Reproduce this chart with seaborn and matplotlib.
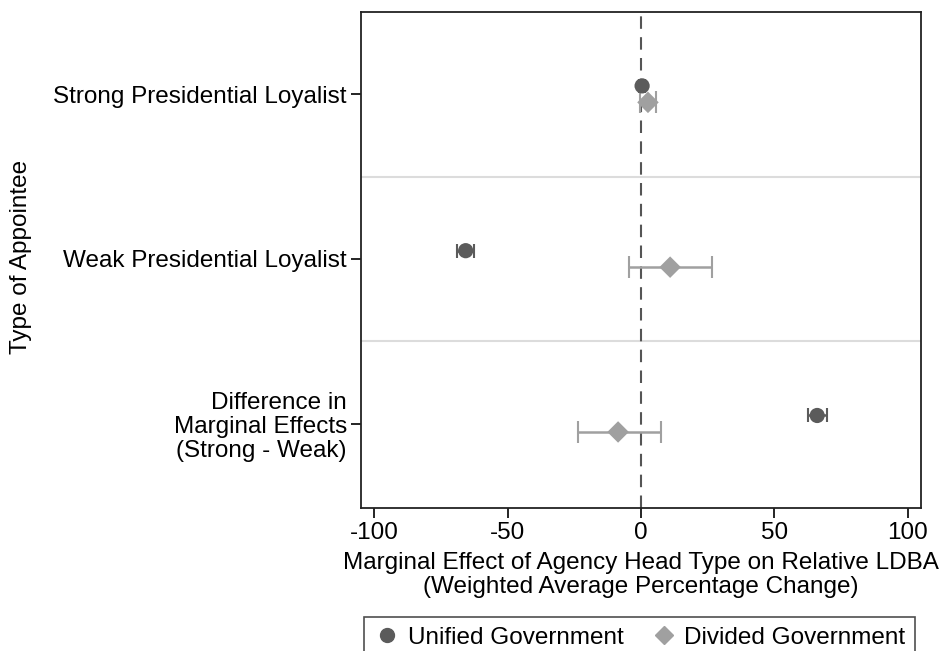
import numpy as np
import pandas as pd
import matplotlib
matplotlib.use("Agg")
import matplotlib.pyplot as plt
import seaborn as sns

# values
categories = ["Strong Presidential Loyalist", "Weak Presidential Loyalist",
              "Difference in\nMarginal Effects\n(Strong - Weak)"]
unified_est = [0.4, -65.7, 66.0]
unified_lo = [-0.6, -69.0, 62.5]
unified_hi = [1.4, -62.5, 69.5]
divided_est = [2.6, 10.9, -8.6]
divided_lo = [-0.4, -4.5, -23.6]
divided_hi = [5.6, 26.6, 7.5]
groups = ["Unified Government", "Divided Government"]

sns.set_style("white")
plt.rcParams['font.family'] = ['Liberation Sans', 'DejaVu Sans']
plt.rcParams['axes.unicode_minus'] = False
plt.rcParams['text.color'] = 'black'
plt.rcParams['axes.labelcolor'] = 'black'

pos = np.arange(1, len(categories) + 1)
df = pd.DataFrame({
    "est": unified_est + divided_est,
    "lo": unified_lo + divided_lo,
    "hi": unified_hi + divided_hi,
    "y": np.concatenate([pos - 0.05, pos + 0.05]),
    "group": [groups[0]] * 3 + [groups[1]] * 3,
})

dark = "#5b5b5b"
light = "#a0a0a0"
pal = {groups[0]: dark, groups[1]: light}
fs = 17.5

fig = plt.figure(figsize=(9.42, 6.51), dpi=100)
ax = fig.add_axes([0.383, 0.22, 0.595, 0.762])

ax.axhline(1.5, color="#dcdcdc", lw=1.5, zorder=0)
ax.axhline(2.5, color="#dcdcdc", lw=1.5, zorder=0)
ax.axvline(0, color="#555555", lw=1.5, ls=(0, (6, 4)), zorder=1)

for g in groups:
    sub = df[df.group == g]
    ax.errorbar(sub.est, sub.y, xerr=[sub.est - sub.lo, sub.hi - sub.est],
                fmt="none", ecolor=pal[g], elinewidth=1.8,
                capsize=5 if g == groups[0] else 8, capthick=1.5, zorder=2)

sns.scatterplot(data=df, x="est", y="y", hue="group", style="group",
                palette=pal, markers={groups[0]: "o", groups[1]: "D"},
                s=120, edgecolor="none", ax=ax, zorder=3, legend=False)

ax.set_xlim(-105, 105)
ax.set_ylim(3.51, 0.5)
ax.set_xticks([-100, -50, 0, 50, 100])
ax.set_yticks(pos)
ax.set_yticklabels(categories, ha="right", multialignment="right", linespacing=1.12)
ax.tick_params(axis="both", direction="out", length=7, width=1.2,
               labelsize=fs, colors="black", bottom=True, left=True, pad=3)
for sp in ax.spines.values():
    sp.set_color("#222222")
    sp.set_linewidth(1.3)

ax.set_xlabel("Marginal Effect of Agency Head Type on Relative LDBA\n"
              "(Weighted Average Percentage Change)", fontsize=fs, labelpad=6,
              linespacing=1.12)
ax.set_ylabel("")
fig.text(0.022, 0.605, "Type of Appointee", rotation=90, fontsize=fs,
         ha="center", va="center")

handles = [
    plt.Line2D([], [], marker="o", color=dark, ls="none", markersize=10),
    plt.Line2D([], [], marker="D", color=light, ls="none", markersize=9),
]
leg = fig.legend(handles, groups, loc="lower center", bbox_to_anchor=(0.679, -0.03),
                 ncol=2, fontsize=fs, frameon=True, fancybox=False,
                 edgecolor="#222222", handletextpad=0.3, columnspacing=1.1,
                 borderpad=0.4, handlelength=1.1, borderaxespad=0.5)
leg.get_frame().set_linewidth(1.2)

fig.savefig("out.png", dpi=100)
